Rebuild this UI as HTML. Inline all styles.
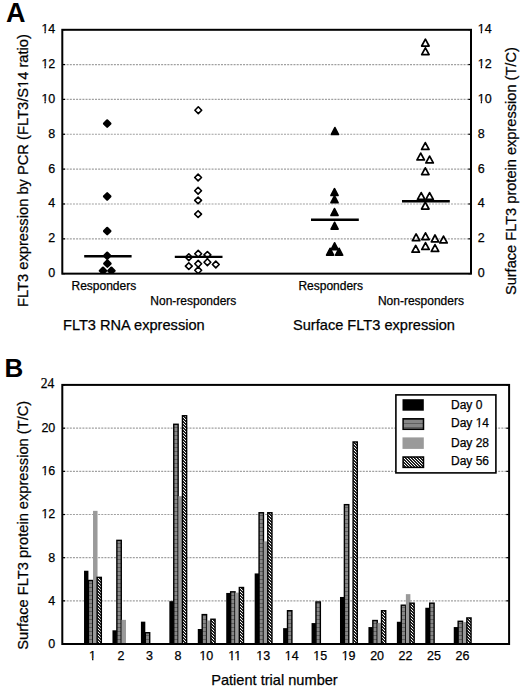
<!DOCTYPE html>
<html><head><meta charset="utf-8"><style>
html,body{margin:0;padding:0;background:#fff;width:520px;height:689px;overflow:hidden}
svg{display:block}
text{font-family:"Liberation Sans", sans-serif;fill:#000;stroke:#000;stroke-width:0.25px}
.t{font-size:12.5px}
.c{font-size:12px}
.g{font-size:14.6px}
.L{font-size:26px;font-weight:bold;fill:#000;stroke:none}
</style></head><body>
<svg width="520" height="689" viewBox="0 0 520 689">
<defs>
<clipPath id="clipA"><rect x="63.3" y="30" width="407" height="243.6"/></clipPath>
<pattern id="p14" patternUnits="userSpaceOnUse" width="4" height="4">
<rect width="4" height="4" fill="#878787"/><rect y="3" width="4" height="1" fill="#5e5e5e"/>
</pattern>
<pattern id="p56" patternUnits="userSpaceOnUse" width="3" height="3">
<rect width="3" height="3" fill="#222"/><path d="M-1 -1L4 4M-1 2L1 4M2 -1L4 1" stroke="#fff" stroke-width="1.0"/>
</pattern>
</defs>
<rect width="520" height="689" fill="#fff"/>
<line x1="63.5" y1="238.84" x2="470" y2="238.84" stroke="#a0a0a0" stroke-width="1.2" stroke-dasharray="2 1.15"/>
<line x1="63.5" y1="203.98" x2="470" y2="203.98" stroke="#a0a0a0" stroke-width="1.2" stroke-dasharray="2 1.15"/>
<line x1="63.5" y1="169.12" x2="470" y2="169.12" stroke="#a0a0a0" stroke-width="1.2" stroke-dasharray="2 1.15"/>
<line x1="63.5" y1="134.26" x2="470" y2="134.26" stroke="#a0a0a0" stroke-width="1.2" stroke-dasharray="2 1.15"/>
<line x1="63.5" y1="99.40" x2="470" y2="99.40" stroke="#a0a0a0" stroke-width="1.2" stroke-dasharray="2 1.15"/>
<line x1="63.5" y1="64.54" x2="470" y2="64.54" stroke="#a0a0a0" stroke-width="1.2" stroke-dasharray="2 1.15"/>
<line x1="62" y1="273.70" x2="65" y2="273.70" stroke="#000" stroke-width="1.2"/>
<line x1="468.3" y1="273.70" x2="471" y2="273.70" stroke="#000" stroke-width="1.2"/>
<line x1="62" y1="238.84" x2="65" y2="238.84" stroke="#000" stroke-width="1.2"/>
<line x1="468.3" y1="238.84" x2="471" y2="238.84" stroke="#000" stroke-width="1.2"/>
<line x1="62" y1="203.98" x2="65" y2="203.98" stroke="#000" stroke-width="1.2"/>
<line x1="468.3" y1="203.98" x2="471" y2="203.98" stroke="#000" stroke-width="1.2"/>
<line x1="62" y1="169.12" x2="65" y2="169.12" stroke="#000" stroke-width="1.2"/>
<line x1="468.3" y1="169.12" x2="471" y2="169.12" stroke="#000" stroke-width="1.2"/>
<line x1="62" y1="134.26" x2="65" y2="134.26" stroke="#000" stroke-width="1.2"/>
<line x1="468.3" y1="134.26" x2="471" y2="134.26" stroke="#000" stroke-width="1.2"/>
<line x1="62" y1="99.40" x2="65" y2="99.40" stroke="#000" stroke-width="1.2"/>
<line x1="468.3" y1="99.40" x2="471" y2="99.40" stroke="#000" stroke-width="1.2"/>
<line x1="62" y1="64.54" x2="65" y2="64.54" stroke="#000" stroke-width="1.2"/>
<line x1="468.3" y1="64.54" x2="471" y2="64.54" stroke="#000" stroke-width="1.2"/>
<line x1="62" y1="29.68" x2="65" y2="29.68" stroke="#000" stroke-width="1.2"/>
<line x1="468.3" y1="29.68" x2="471" y2="29.68" stroke="#000" stroke-width="1.2"/>
<rect x="62.3" y="29.8" width="408.7" height="243.85" fill="none" stroke="#000" stroke-width="2"/>
<text x="55.3" y="277.10" text-anchor="end" class="t">0</text>
<text x="477.7" y="277.10" class="t">0</text>
<text x="55.3" y="242.24" text-anchor="end" class="t">2</text>
<text x="477.7" y="242.24" class="t">2</text>
<text x="55.3" y="207.38" text-anchor="end" class="t">4</text>
<text x="477.7" y="207.38" class="t">4</text>
<text x="55.3" y="172.52" text-anchor="end" class="t">6</text>
<text x="477.7" y="172.52" class="t">6</text>
<text x="55.3" y="137.66" text-anchor="end" class="t">8</text>
<text x="477.7" y="137.66" class="t">8</text>
<text x="55.3" y="102.80" text-anchor="end" class="t">10</text>
<text x="477.7" y="102.80" class="t">10</text>
<text x="55.3" y="67.94" text-anchor="end" class="t">12</text>
<text x="477.7" y="67.94" class="t">12</text>
<text x="55.3" y="33.08" text-anchor="end" class="t">14</text>
<text x="477.7" y="33.08" class="t">14</text>
<line x1="84.2" y1="256.2" x2="131.6" y2="256.2" stroke="#000" stroke-width="2.4"/>
<line x1="174.8" y1="256.9" x2="222.5" y2="256.9" stroke="#000" stroke-width="2.4"/>
<line x1="311" y1="219.8" x2="358.8" y2="219.8" stroke="#000" stroke-width="2.4"/>
<line x1="402" y1="201.3" x2="449.8" y2="201.3" stroke="#000" stroke-width="2.4"/>
<g clip-path="url(#clipA)">
<path d="M107.20 120.40L110.40 123.60L107.20 126.80L104.00 123.60Z" fill="#000" stroke="#000" stroke-width="2.2" stroke-linejoin="round"/>
<path d="M107.20 193.20L110.40 196.40L107.20 199.60L104.00 196.40Z" fill="#000" stroke="#000" stroke-width="2.2" stroke-linejoin="round"/>
<path d="M107.20 227.90L110.40 231.10L107.20 234.30L104.00 231.10Z" fill="#000" stroke="#000" stroke-width="2.2" stroke-linejoin="round"/>
<path d="M107.20 252.60L110.40 255.80L107.20 259.00L104.00 255.80Z" fill="#000" stroke="#000" stroke-width="2.2" stroke-linejoin="round"/>
<path d="M107.40 260.40L110.60 263.60L107.40 266.80L104.20 263.60Z" fill="#000" stroke="#000" stroke-width="2.2" stroke-linejoin="round"/>
<path d="M103.00 267.60L106.20 270.80L103.00 274.00L99.80 270.80Z" fill="#000" stroke="#000" stroke-width="2.2" stroke-linejoin="round"/>
<path d="M111.40 267.60L114.60 270.80L111.40 274.00L108.20 270.80Z" fill="#000" stroke="#000" stroke-width="2.2" stroke-linejoin="round"/>
<path d="M198.30 106.80L201.70 110.20L198.30 113.60L194.90 110.20Z" fill="none" stroke="#000" stroke-width="1.6" stroke-linejoin="round"/>
<path d="M198.10 174.10L201.50 177.50L198.10 180.90L194.70 177.50Z" fill="none" stroke="#000" stroke-width="1.6" stroke-linejoin="round"/>
<path d="M198.10 187.30L201.50 190.70L198.10 194.10L194.70 190.70Z" fill="none" stroke="#000" stroke-width="1.6" stroke-linejoin="round"/>
<path d="M198.10 197.00L201.50 200.40L198.10 203.80L194.70 200.40Z" fill="none" stroke="#000" stroke-width="1.6" stroke-linejoin="round"/>
<path d="M198.10 210.70L201.50 214.10L198.10 217.50L194.70 214.10Z" fill="none" stroke="#000" stroke-width="1.6" stroke-linejoin="round"/>
<path d="M188.80 253.80L192.20 257.20L188.80 260.60L185.40 257.20Z" fill="none" stroke="#000" stroke-width="1.6" stroke-linejoin="round"/>
<path d="M188.80 262.70L192.20 266.10L188.80 269.50L185.40 266.10Z" fill="none" stroke="#000" stroke-width="1.6" stroke-linejoin="round"/>
<path d="M198.20 250.40L201.60 253.80L198.20 257.20L194.80 253.80Z" fill="none" stroke="#000" stroke-width="1.6" stroke-linejoin="round"/>
<path d="M198.20 260.40L201.60 263.80L198.20 267.20L194.80 263.80Z" fill="none" stroke="#000" stroke-width="1.6" stroke-linejoin="round"/>
<path d="M198.20 266.90L201.60 270.30L198.20 273.70L194.80 270.30Z" fill="none" stroke="#000" stroke-width="1.6" stroke-linejoin="round"/>
<path d="M207.40 251.50L210.80 254.90L207.40 258.30L204.00 254.90Z" fill="none" stroke="#000" stroke-width="1.6" stroke-linejoin="round"/>
<path d="M207.40 258.80L210.80 262.20L207.40 265.60L204.00 262.20Z" fill="none" stroke="#000" stroke-width="1.6" stroke-linejoin="round"/>
<path d="M215.80 261.10L219.20 264.50L215.80 267.90L212.40 264.50Z" fill="none" stroke="#000" stroke-width="1.6" stroke-linejoin="round"/>
<path d="M334.90 127.60L338.40 134.40L331.40 134.40Z" fill="#000" stroke="#000" stroke-width="1.7" stroke-linejoin="round"/>
<path d="M334.50 188.70L338.00 195.50L331.00 195.50Z" fill="#000" stroke="#000" stroke-width="1.7" stroke-linejoin="round"/>
<path d="M334.50 195.90L338.00 202.70L331.00 202.70Z" fill="#000" stroke="#000" stroke-width="1.7" stroke-linejoin="round"/>
<path d="M334.50 208.60L338.00 215.40L331.00 215.40Z" fill="#000" stroke="#000" stroke-width="1.7" stroke-linejoin="round"/>
<path d="M334.60 222.30L338.10 229.10L331.10 229.10Z" fill="#000" stroke="#000" stroke-width="1.7" stroke-linejoin="round"/>
<path d="M334.60 242.80L338.10 249.60L331.10 249.60Z" fill="#000" stroke="#000" stroke-width="1.7" stroke-linejoin="round"/>
<path d="M330.10 248.30L333.60 255.10L326.60 255.10Z" fill="#000" stroke="#000" stroke-width="1.7" stroke-linejoin="round"/>
<path d="M339.10 248.30L342.60 255.10L335.60 255.10Z" fill="#000" stroke="#000" stroke-width="1.7" stroke-linejoin="round"/>
<path d="M425.40 39.20L429.10 46.00L421.70 46.00Z" fill="none" stroke="#000" stroke-width="1.75" stroke-linejoin="round"/>
<path d="M425.40 47.80L429.10 54.60L421.70 54.60Z" fill="none" stroke="#000" stroke-width="1.75" stroke-linejoin="round"/>
<path d="M425.30 142.60L429.00 149.40L421.60 149.40Z" fill="none" stroke="#000" stroke-width="1.75" stroke-linejoin="round"/>
<path d="M420.70 153.10L424.40 159.90L417.00 159.90Z" fill="none" stroke="#000" stroke-width="1.75" stroke-linejoin="round"/>
<path d="M429.60 156.10L433.30 162.90L425.90 162.90Z" fill="none" stroke="#000" stroke-width="1.75" stroke-linejoin="round"/>
<path d="M425.30 167.80L429.00 174.60L421.60 174.60Z" fill="none" stroke="#000" stroke-width="1.75" stroke-linejoin="round"/>
<path d="M421.20 192.60L424.90 199.40L417.50 199.40Z" fill="none" stroke="#000" stroke-width="1.75" stroke-linejoin="round"/>
<path d="M429.60 192.60L433.30 199.40L425.90 199.40Z" fill="none" stroke="#000" stroke-width="1.75" stroke-linejoin="round"/>
<path d="M425.30 202.20L429.00 209.00L421.60 209.00Z" fill="none" stroke="#000" stroke-width="1.75" stroke-linejoin="round"/>
<path d="M416.10 233.90L419.80 240.70L412.40 240.70Z" fill="none" stroke="#000" stroke-width="1.75" stroke-linejoin="round"/>
<path d="M425.50 232.80L429.20 239.60L421.80 239.60Z" fill="none" stroke="#000" stroke-width="1.75" stroke-linejoin="round"/>
<path d="M435.00 235.00L438.70 241.80L431.30 241.80Z" fill="none" stroke="#000" stroke-width="1.75" stroke-linejoin="round"/>
<path d="M443.50 236.10L447.20 242.90L439.80 242.90Z" fill="none" stroke="#000" stroke-width="1.75" stroke-linejoin="round"/>
<path d="M415.70 245.40L419.40 252.20L412.00 252.20Z" fill="none" stroke="#000" stroke-width="1.75" stroke-linejoin="round"/>
<path d="M425.50 242.60L429.20 249.40L421.80 249.40Z" fill="none" stroke="#000" stroke-width="1.75" stroke-linejoin="round"/>
<path d="M435.00 244.60L438.70 251.40L431.30 251.40Z" fill="none" stroke="#000" stroke-width="1.75" stroke-linejoin="round"/>
</g>
<text x="71.5" y="289.8" class="c">Responders</text>
<text x="150.3" y="305.4" class="c">Non-responders</text>
<text x="298.4" y="289.6" class="c">Responders</text>
<text x="377.9" y="305.2" class="c">Non-responders</text>
<text x="63" y="329.8" class="g">FLT3 RNA expression</text>
<text x="293.0" y="329.8" class="g">Surface FLT3 expression</text>
<text transform="translate(27.9 307.0) rotate(-90)" class="g" style="font-size:14.7px">FLT3 expression by PCR (FLT3/S14 ratio)</text>
<text transform="translate(515.7 295.1) rotate(-90)" class="g">Surface FLT3 protein expression (T/C)</text>
<text x="6.1" y="22.2" class="L" style="font-size:27px">A</text>
<text x="4.4" y="376.8" class="L">B</text>
<line x1="63.5" y1="600.84" x2="508" y2="600.84" stroke="#a0a0a0" stroke-width="1.2" stroke-dasharray="2 1.15"/>
<line x1="63.5" y1="557.68" x2="508" y2="557.68" stroke="#a0a0a0" stroke-width="1.2" stroke-dasharray="2 1.15"/>
<line x1="63.5" y1="514.52" x2="508" y2="514.52" stroke="#a0a0a0" stroke-width="1.2" stroke-dasharray="2 1.15"/>
<line x1="63.5" y1="471.36" x2="508" y2="471.36" stroke="#a0a0a0" stroke-width="1.2" stroke-dasharray="2 1.15"/>
<line x1="63.5" y1="428.20" x2="508" y2="428.20" stroke="#a0a0a0" stroke-width="1.2" stroke-dasharray="2 1.15"/>
<line x1="62" y1="644.00" x2="65" y2="644.00" stroke="#000" stroke-width="1.2"/>
<line x1="506.3" y1="644.00" x2="509" y2="644.00" stroke="#000" stroke-width="1.2"/>
<text x="55.3" y="647.90" text-anchor="end" class="t">0</text>
<line x1="62" y1="600.84" x2="65" y2="600.84" stroke="#000" stroke-width="1.2"/>
<line x1="506.3" y1="600.84" x2="509" y2="600.84" stroke="#000" stroke-width="1.2"/>
<text x="55.3" y="604.74" text-anchor="end" class="t">4</text>
<line x1="62" y1="557.68" x2="65" y2="557.68" stroke="#000" stroke-width="1.2"/>
<line x1="506.3" y1="557.68" x2="509" y2="557.68" stroke="#000" stroke-width="1.2"/>
<text x="55.3" y="561.58" text-anchor="end" class="t">8</text>
<line x1="62" y1="514.52" x2="65" y2="514.52" stroke="#000" stroke-width="1.2"/>
<line x1="506.3" y1="514.52" x2="509" y2="514.52" stroke="#000" stroke-width="1.2"/>
<text x="55.3" y="518.42" text-anchor="end" class="t">12</text>
<line x1="62" y1="471.36" x2="65" y2="471.36" stroke="#000" stroke-width="1.2"/>
<line x1="506.3" y1="471.36" x2="509" y2="471.36" stroke="#000" stroke-width="1.2"/>
<text x="55.3" y="475.26" text-anchor="end" class="t">16</text>
<line x1="62" y1="428.20" x2="65" y2="428.20" stroke="#000" stroke-width="1.2"/>
<line x1="506.3" y1="428.20" x2="509" y2="428.20" stroke="#000" stroke-width="1.2"/>
<text x="55.3" y="432.10" text-anchor="end" class="t">20</text>
<line x1="62" y1="385.04" x2="65" y2="385.04" stroke="#000" stroke-width="1.2"/>
<line x1="506.3" y1="385.04" x2="509" y2="385.04" stroke="#000" stroke-width="1.2"/>
<text x="54.4" y="388.1" text-anchor="end" class="t" style="font-family:'Liberation Serif',serif;font-size:13.6px">24</text>
<rect x="84.03" y="570.74" width="4.4" height="73.26" fill="#000"/>
<rect x="88.43" y="580.50" width="4.40" height="63.50" fill="url(#p14)" stroke="#000" stroke-width="1.4"/>
<rect x="93.03" y="510.85" width="4.50" height="133.15" fill="#9a9a9a"/>
<rect x="97.13" y="577.37" width="4.20" height="66.63" fill="url(#p56)" stroke="#000" stroke-width="1.4"/>
<rect x="112.47" y="630.30" width="4.4" height="13.70" fill="#000"/>
<rect x="116.87" y="540.36" width="4.40" height="103.64" fill="url(#p14)" stroke="#000" stroke-width="1.4"/>
<rect x="121.47" y="619.83" width="4.50" height="24.17" fill="#9a9a9a"/>
<rect x="140.91" y="621.66" width="4.4" height="22.34" fill="#000"/>
<rect x="145.31" y="632.72" width="4.40" height="11.28" fill="url(#p14)" stroke="#000" stroke-width="1.4"/>
<rect x="169.35" y="601.16" width="4.4" height="42.84" fill="#000"/>
<rect x="173.75" y="424.26" width="4.40" height="219.74" fill="url(#p14)" stroke="#000" stroke-width="1.4"/>
<rect x="178.35" y="496.18" width="4.50" height="147.82" fill="#9a9a9a"/>
<rect x="182.45" y="415.74" width="4.20" height="228.26" fill="url(#p56)" stroke="#000" stroke-width="1.4"/>
<rect x="197.79" y="629.00" width="4.4" height="15.00" fill="#000"/>
<rect x="202.19" y="614.60" width="4.40" height="29.40" fill="url(#p14)" stroke="#000" stroke-width="1.4"/>
<rect x="206.79" y="620.48" width="4.50" height="23.52" fill="#9a9a9a"/>
<rect x="210.89" y="619.24" width="4.20" height="24.76" fill="url(#p56)" stroke="#000" stroke-width="1.4"/>
<rect x="226.23" y="592.96" width="4.4" height="51.04" fill="#000"/>
<rect x="230.63" y="591.83" width="4.40" height="52.17" fill="url(#p14)" stroke="#000" stroke-width="1.4"/>
<rect x="235.23" y="592.64" width="4.50" height="51.36" fill="#9a9a9a"/>
<rect x="239.33" y="587.51" width="4.20" height="56.49" fill="url(#p56)" stroke="#000" stroke-width="1.4"/>
<rect x="254.67" y="573.43" width="4.4" height="70.57" fill="#000"/>
<rect x="259.07" y="512.74" width="4.40" height="131.26" fill="url(#p14)" stroke="#000" stroke-width="1.4"/>
<rect x="263.67" y="541.39" width="4.50" height="102.61" fill="#9a9a9a"/>
<rect x="267.77" y="512.74" width="4.20" height="131.26" fill="url(#p56)" stroke="#000" stroke-width="1.4"/>
<rect x="283.11" y="628.14" width="4.4" height="15.86" fill="#000"/>
<rect x="287.51" y="610.71" width="4.40" height="33.29" fill="url(#p14)" stroke="#000" stroke-width="1.4"/>
<rect x="311.55" y="623.07" width="4.4" height="20.93" fill="#000"/>
<rect x="315.95" y="601.97" width="4.40" height="42.03" fill="url(#p14)" stroke="#000" stroke-width="1.4"/>
<rect x="339.99" y="596.96" width="4.4" height="47.04" fill="#000"/>
<rect x="344.39" y="504.65" width="4.40" height="139.35" fill="url(#p14)" stroke="#000" stroke-width="1.4"/>
<rect x="353.09" y="441.96" width="4.20" height="202.04" fill="url(#p56)" stroke="#000" stroke-width="1.4"/>
<rect x="368.43" y="627.06" width="4.4" height="16.94" fill="#000"/>
<rect x="372.83" y="620.53" width="4.40" height="23.47" fill="url(#p14)" stroke="#000" stroke-width="1.4"/>
<rect x="377.43" y="622.85" width="4.50" height="21.15" fill="#9a9a9a"/>
<rect x="381.53" y="610.71" width="4.20" height="33.29" fill="url(#p56)" stroke="#000" stroke-width="1.4"/>
<rect x="396.87" y="621.77" width="4.4" height="22.23" fill="#000"/>
<rect x="401.27" y="605.21" width="4.40" height="38.79" fill="url(#p14)" stroke="#000" stroke-width="1.4"/>
<rect x="405.87" y="594.15" width="4.50" height="49.85" fill="#9a9a9a"/>
<rect x="409.97" y="603.16" width="4.20" height="40.84" fill="url(#p56)" stroke="#000" stroke-width="1.4"/>
<rect x="425.31" y="607.75" width="4.4" height="36.25" fill="#000"/>
<rect x="429.71" y="603.16" width="4.40" height="40.84" fill="url(#p14)" stroke="#000" stroke-width="1.4"/>
<rect x="453.75" y="627.06" width="4.4" height="16.94" fill="#000"/>
<rect x="458.15" y="621.29" width="4.40" height="22.71" fill="url(#p14)" stroke="#000" stroke-width="1.4"/>
<rect x="462.75" y="622.10" width="4.50" height="21.90" fill="#9a9a9a"/>
<rect x="466.85" y="617.94" width="4.20" height="26.06" fill="url(#p56)" stroke="#000" stroke-width="1.4"/>
<rect x="62.3" y="384.9" width="446.8" height="259.1" fill="none" stroke="#000" stroke-width="2"/>
<text x="92.50" y="660.4" text-anchor="middle" class="t">1</text>
<text x="120.96" y="660.4" text-anchor="middle" class="t">2</text>
<text x="149.42" y="660.4" text-anchor="middle" class="t">3</text>
<text x="177.88" y="660.4" text-anchor="middle" class="t">8</text>
<text x="206.34" y="660.4" text-anchor="middle" class="t">10</text>
<text x="234.80" y="660.4" text-anchor="middle" class="t">11</text>
<text x="263.26" y="660.4" text-anchor="middle" class="t">13</text>
<text x="291.72" y="660.4" text-anchor="middle" class="t">14</text>
<text x="320.18" y="660.4" text-anchor="middle" class="t">15</text>
<text x="348.64" y="660.4" text-anchor="middle" class="t">19</text>
<text x="377.10" y="660.4" text-anchor="middle" class="t">20</text>
<text x="405.56" y="660.4" text-anchor="middle" class="t">22</text>
<text x="434.02" y="660.4" text-anchor="middle" class="t">25</text>
<text x="462.48" y="660.4" text-anchor="middle" class="t">26</text>
<text x="211.2" y="685.2" class="g">Patient trial number</text>
<text transform="translate(28.3 649.8) rotate(-90)" class="g" style="font-size:14.66px">Surface FLT3 protein expression (T/C)</text>
<rect x="395.9" y="394.9" width="100.0" height="78" fill="#fff" stroke="#000" stroke-width="1.6"/>
<rect x="402.5" y="399.2" width="21.3" height="11.5" fill="#000"/>
<rect x="403.1" y="418.8" width="20.4" height="10.5" fill="url(#p14)" stroke="#000" stroke-width="1.5"/>
<rect x="402.5" y="437.4" width="21.3" height="11.5" fill="#9a9a9a"/>
<rect x="403.1" y="457.0" width="20.4" height="10.4" fill="url(#p56)" stroke="#000" stroke-width="1.5"/>
<text x="451.0" y="408.5" class="c">Day 0</text>
<text x="451.0" y="427.2" class="c">Day 14</text>
<text x="451.0" y="446.7" class="c">Day 28</text>
<text x="451.0" y="465.3" class="c">Day 56</text>
<g id="m1"><rect x="41.25" y="100.97" width="3.17" height="3.13" fill="#fff"/><rect x="45.76" y="100.97" width="3.07" height="3.13" fill="#fff"/><rect x="477.55" y="100.97" width="3.17" height="3.13" fill="#fff"/><rect x="482.07" y="100.97" width="3.07" height="3.13" fill="#fff"/><rect x="41.25" y="66.11" width="3.17" height="3.13" fill="#fff"/><rect x="45.76" y="66.11" width="3.07" height="3.13" fill="#fff"/><rect x="477.55" y="66.11" width="3.17" height="3.13" fill="#fff"/><rect x="482.07" y="66.11" width="3.07" height="3.13" fill="#fff"/><rect x="41.25" y="31.25" width="3.17" height="3.13" fill="#fff"/><rect x="45.76" y="31.25" width="3.07" height="3.13" fill="#fff"/><rect x="477.55" y="31.25" width="3.17" height="3.13" fill="#fff"/><rect x="482.07" y="31.25" width="3.07" height="3.13" fill="#fff"/><g transform="translate(27.9 307.0) rotate(-90)"><rect x="219.04" y="-2.00" width="3.56" height="3.30" fill="#fff"/><rect x="224.13" y="-2.00" width="3.44" height="3.30" fill="#fff"/></g><rect x="41.25" y="516.59" width="3.17" height="3.13" fill="#fff"/><rect x="45.76" y="516.59" width="3.07" height="3.13" fill="#fff"/><rect x="41.25" y="473.43" width="3.17" height="3.13" fill="#fff"/><rect x="45.76" y="473.43" width="3.07" height="3.13" fill="#fff"/><rect x="88.88" y="658.57" width="3.17" height="3.13" fill="#fff"/><rect x="93.39" y="658.57" width="3.07" height="3.13" fill="#fff"/><rect x="199.24" y="658.57" width="3.17" height="3.13" fill="#fff"/><rect x="203.75" y="658.57" width="3.07" height="3.13" fill="#fff"/><rect x="228.16" y="658.57" width="3.17" height="3.13" fill="#fff"/><rect x="232.68" y="658.57" width="3.07" height="3.13" fill="#fff"/><rect x="234.18" y="658.57" width="3.17" height="3.13" fill="#fff"/><rect x="238.69" y="658.57" width="3.07" height="3.13" fill="#fff"/><rect x="256.16" y="658.57" width="3.17" height="3.13" fill="#fff"/><rect x="260.67" y="658.57" width="3.07" height="3.13" fill="#fff"/><rect x="284.62" y="658.57" width="3.17" height="3.13" fill="#fff"/><rect x="289.13" y="658.57" width="3.07" height="3.13" fill="#fff"/><rect x="313.08" y="658.57" width="3.17" height="3.13" fill="#fff"/><rect x="317.59" y="658.57" width="3.07" height="3.13" fill="#fff"/><rect x="341.54" y="658.57" width="3.17" height="3.13" fill="#fff"/><rect x="346.05" y="658.57" width="3.07" height="3.13" fill="#fff"/><rect x="475.49" y="425.40" width="3.08" height="3.10" fill="#fff"/><rect x="479.87" y="425.40" width="2.99" height="3.10" fill="#fff"/></g><!--m1-->
</svg>
</body></html>
